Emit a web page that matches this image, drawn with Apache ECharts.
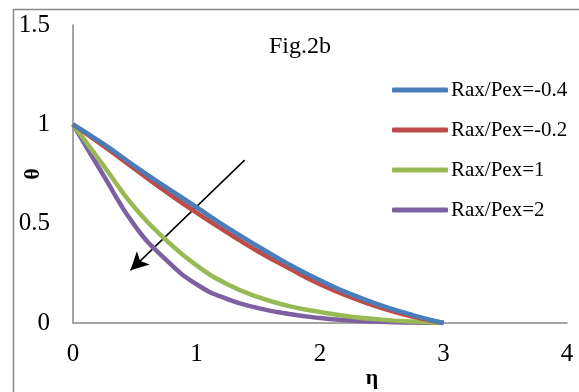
<!DOCTYPE html>
<html>
<head>
<meta charset="utf-8">
<title>Fig.2b</title>
<script src="https://cdn.jsdelivr.net/npm/echarts@6/dist/echarts.min.js"></script>
<style>
  html, body { margin: 0; padding: 0; background: #fff; }
  #chart { width: 579px; height: 392px; }
</style>
</head>
<body>
<div id="chart"></div>
<script>
// eta values (x) shared by every curve
var eta = [0, 0.25, 0.5, 0.75, 1, 1.25, 1.5, 1.75, 2, 2.25, 2.5, 2.75, 3];
var names = ['Rax/Pex=-0.4', 'Rax/Pex=-0.2', 'Rax/Pex=1', 'Rax/Pex=2'];
var thetaA = [1, 0.90, 0.79, 0.685, 0.583, 0.48, 0.385, 0.295, 0.215, 0.145, 0.088, 0.04, 0];
var thetaB = [1, 0.89, 0.775, 0.662, 0.555, 0.455, 0.36, 0.275, 0.195, 0.13, 0.075, 0.032, 0];
var thetaC = [1, 0.79, 0.58, 0.42, 0.29, 0.195, 0.13, 0.085, 0.055, 0.032, 0.017, 0.007, 0];
var thetaD = [1, 0.74, 0.49, 0.32, 0.195, 0.12, 0.075, 0.045, 0.025, 0.013, 0.006, 0.002, 0];
var colors = ['#4a7ebb', '#be4b48', '#98b954', '#7d60a0'];
var arrowFrom = [1.39, 0.82];
var arrowTo = [0.465, 0.265];

function pairs(ys) {
  return eta.map(function (x, i) { return [x, ys[i]]; });
}

var font = '"Liberation Serif", "Times New Roman", serif';
var allY = [thetaA, thetaB, thetaC, thetaD];

var series = allY.map(function (ys, i) {
  return {
    name: names[i],
    type: 'line',
    data: pairs(ys),
    smooth: true,
    showSymbol: false,
    lineStyle: { width: 4.5, color: colors[i] },
    itemStyle: { color: colors[i] },
    z: 10 - i
  };
});

// arrow annotation
series.push({
  type: 'line',
  data: [],
  markLine: {
    silent: true,
    symbol: ['none', 'arrow'],
    symbolSize: [14, 18],
    label: { show: false },
    lineStyle: { color: '#000', width: 1.5, type: 'solid' },
    data: [[{ coord: arrowFrom }, { coord: arrowTo }]]
  }
});

var chart = echarts.init(document.getElementById('chart'));
chart.setOption({
  animation: false,
  textStyle: { fontFamily: font },
  title: {
    text: 'Fig.2b',
    left: 264,
    top: 30,
    textStyle: { fontFamily: font, fontWeight: 'normal', fontSize: 24, color: '#000' }
  },
  legend: {
    data: names,
    orient: 'vertical',
    left: 387,
    top: 74,
    itemWidth: 56,
    itemHeight: 5,
    itemGap: 18,
    icon: 'roundRect',
    textStyle: { fontFamily: font, fontSize: 21, color: '#000', padding: [0, 0, 0, -2], lineHeight: 22 }
  },
  grid: { left: 73, right: 12, top: 25, bottom: 69, containLabel: false, outerBoundsMode: 'none' },
  xAxis: {
    type: 'value',
    min: 0, max: 4, interval: 1,
    axisLine: { lineStyle: { color: '#888', width: 1.5 } },
    axisTick: { show: false },
    splitLine: { show: false },
    axisLabel: { fontFamily: font, fontSize: 25, color: '#000', margin: 19 }
  },
  yAxis: {
    type: 'value',
    min: 0, max: 1.5, interval: 0.5,
    name: 'θ',
    nameLocation: 'middle',
    nameRotate: 90,
    nameGap: 29,
    nameMoveOverlap: false,
    nameTextStyle: { fontFamily: font, fontSize: 22, fontWeight: 'bold', color: '#000' },
    axisLine: { show: true, lineStyle: { color: '#888', width: 1.5 } },
    axisTick: { show: false },
    splitLine: { show: false },
    axisLabel: { fontFamily: font, fontSize: 25, color: '#000', margin: 23 }
  },
  graphic: [
    {
      type: 'rect',
      shape: { x: 13.5, y: 9.5, width: 600, height: 500 },
      style: { fill: 'none', stroke: '#888', lineWidth: 1.5 },
      silent: true
    },
    {
      type: 'text',
      x: 372, y: 378,
      style: {
        text: 'η', fontFamily: font, fontSize: 22, fontWeight: 'bold',
        fill: '#000', align: 'center', verticalAlign: 'middle'
      }
    }
  ],
  series: series
});
</script>
</body>
</html>
